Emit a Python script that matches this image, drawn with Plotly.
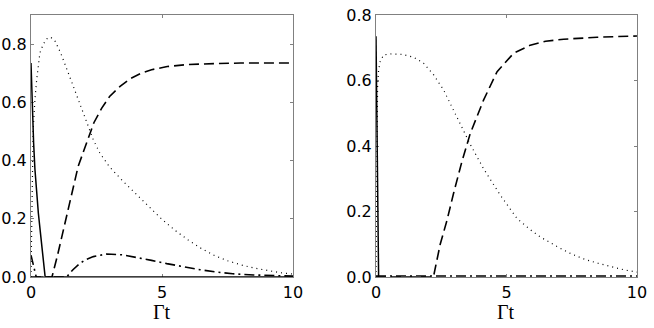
import plotly.graph_objects as go

# ---- left panel ----
t_solid_l = [0, 0.05, 0.1, 0.15, 0.2, 0.28, 0.35, 0.41, 0.48, 0.54, 10]
solid_l = [0.735, 0.58, 0.46, 0.37, 0.30, 0.22, 0.16, 0.104, 0.05, 0.0, 0.0]

t_dot_l = [0, 0.02, 0.04, 0.08, 0.15, 0.22, 0.34, 0.47, 0.6, 0.75, 0.92, 1.13, 1.3, 1.46,
           1.62, 1.81, 2.0, 2.19, 2.38, 2.63, 3.0, 3.5, 4.0, 4.5, 5.0, 5.5, 6.0, 6.5,
           7.0, 7.5, 8.0, 8.5, 9.0, 9.5, 10]
dot_l = [0, 0.18, 0.3, 0.5, 0.61, 0.68, 0.77, 0.80, 0.818, 0.824, 0.81, 0.77, 0.73, 0.694,
         0.654, 0.608, 0.563, 0.516, 0.471, 0.425, 0.378, 0.33, 0.285, 0.24, 0.198, 0.16,
         0.127, 0.098, 0.074, 0.056, 0.042, 0.031, 0.022, 0.015, 0.01]

t_dash_l = [0, 0.8, 1.0, 1.2, 1.4, 1.6, 1.8, 2.0, 2.2, 2.4, 2.7, 3.0, 3.4, 3.8, 4.2, 4.6,
            5.2, 6.0, 7.0, 8.0, 10]
dash_l = [0, 0, 0.07, 0.15, 0.23, 0.31, 0.38, 0.43, 0.48, 0.53, 0.58, 0.62, 0.655, 0.682,
          0.70, 0.712, 0.723, 0.73, 0.733, 0.735, 0.735]

t_dd_l = [0, 0.1, 0.2, 1.36, 1.6, 1.87, 2.1, 2.38, 2.89, 3.52, 4.03, 4.6, 5.18, 5.8, 6.45,
          7.1, 7.7, 8.5, 9.2, 10]
dd_l = [0.075, 0.04, 0, 0, 0.025, 0.047, 0.06, 0.07, 0.079, 0.076, 0.068, 0.057, 0.046,
        0.035, 0.025, 0.017, 0.011, 0.007, 0.004, 0.003]

# ---- right panel ----
t_solid_r = [0, 0.03, 0.06, 0.1]
solid_r = [0.735, 0.45, 0.18, 0.0]

t_dot_r = [0, 0.03, 0.06, 0.1, 0.16, 0.29, 0.55, 1.0, 1.44, 1.82, 2.21, 2.59, 2.91, 3.23,
           3.61, 4.12, 4.76, 5.4, 5.9, 6.3, 7.0, 7.5, 8.0, 8.5, 9.0, 9.5, 10]
dot_r = [0, 0.4, 0.58, 0.632, 0.658, 0.678, 0.681, 0.68, 0.671, 0.653, 0.617, 0.571, 0.52,
         0.469, 0.405, 0.331, 0.25, 0.179, 0.145, 0.122, 0.09, 0.07, 0.054, 0.042, 0.031,
         0.022, 0.015]

t_dash_r = [0, 2.2, 2.46, 2.72, 2.97, 3.29, 3.61, 3.87, 4.12, 4.64, 5.27, 5.91, 6.5, 7.19,
            8.47, 10]
dash_r = [0, 0, 0.10, 0.173, 0.255, 0.352, 0.438, 0.489, 0.54, 0.627, 0.683, 0.708, 0.72,
          0.726, 0.732, 0.736]

t_dd_r = [0, 10]
dd_r = [0.003, 0.003]

x_ticks = [0, 5, 10]
y_ticks = [0.0, 0.2, 0.4, 0.6, 0.8]

W, H = 654, 328
dom_x1 = [31 / W, 293 / W]
dom_x2 = [376 / W, 637 / W]
dom_y = [1 - 277 / H, 1 - 15 / H]

DASH = "10px,5px"
DOT = "1px,4px"
DASHDOT = "10px,4px,2px,4px"

fig = go.Figure()


def add(tt, yy, dash, width, xa, ya):
    fig.add_trace(go.Scatter(x=tt, y=yy, mode='lines', xaxis=xa, yaxis=ya,
                             line=dict(color='black', width=width, dash=dash),
                             hoverinfo='skip', showlegend=False))


add(t_solid_l, solid_l, 'solid', 1.5, 'x', 'y')
add(t_dot_l, dot_l, DOT, 1.2, 'x', 'y')
add(t_dash_l, dash_l, DASH, 1.6, 'x', 'y')
add(t_dd_l, dd_l, DASHDOT, 1.6, 'x', 'y')

add(t_solid_r, solid_r, 'solid', 1.5, 'x2', 'y2')
add(t_dot_r, dot_r, DOT, 1.2, 'x2', 'y2')
add(t_dash_r, dash_r, DASH, 1.6, 'x2', 'y2')
add(t_dd_r, dd_r, DASHDOT, 1.6, 'x2', 'y2')

tickfont = dict(family='DejaVu Sans', size=16, color='black')
axis_common = dict(showline=True, mirror='ticks', linecolor='#808080', linewidth=1.2,
                   ticks='inside', ticklen=3, tickcolor='#808080', showgrid=False,
                   zeroline=False, tickfont=tickfont, layer='below traces',
                   automargin=False, ticklabeloverflow='allow')

fig.update_layout(
    width=W, height=H,
    margin=dict(l=0, r=0, t=0, b=0),
    paper_bgcolor='white', plot_bgcolor='white',
    xaxis=dict(domain=dom_x1, range=[0, 10], tickvals=x_ticks, anchor='y',
               ticklabelstandoff=1, **axis_common),
    yaxis=dict(domain=dom_y, range=[0, 0.9], tickvals=y_ticks, tickformat='.1f',
               anchor='x', ticklabelstandoff=0, **axis_common),
    xaxis2=dict(domain=dom_x2, range=[0, 10], tickvals=x_ticks, anchor='y2',
                ticklabelstandoff=1, **axis_common),
    yaxis2=dict(domain=dom_y, range=[0, 0.8], tickvals=y_ticks, tickformat='.1f',
                anchor='x2', ticklabelstandoff=0, **axis_common),
)

for dom in (dom_x1, dom_x2):
    fig.add_annotation(text='Γt', xref='paper', yref='paper',
                       x=(dom[0] + dom[1]) / 2, y=1 - 312 / H,
                       showarrow=False, xanchor='center', yanchor='middle',
                       font=dict(family='Liberation Serif', size=20, color='black'))

# the default page body has an 8px margin; drop it so the figure fills the window
fig.write_html("out.html", config={'displayModeBar': False},
               post_script="document.body.style.margin='0';")
